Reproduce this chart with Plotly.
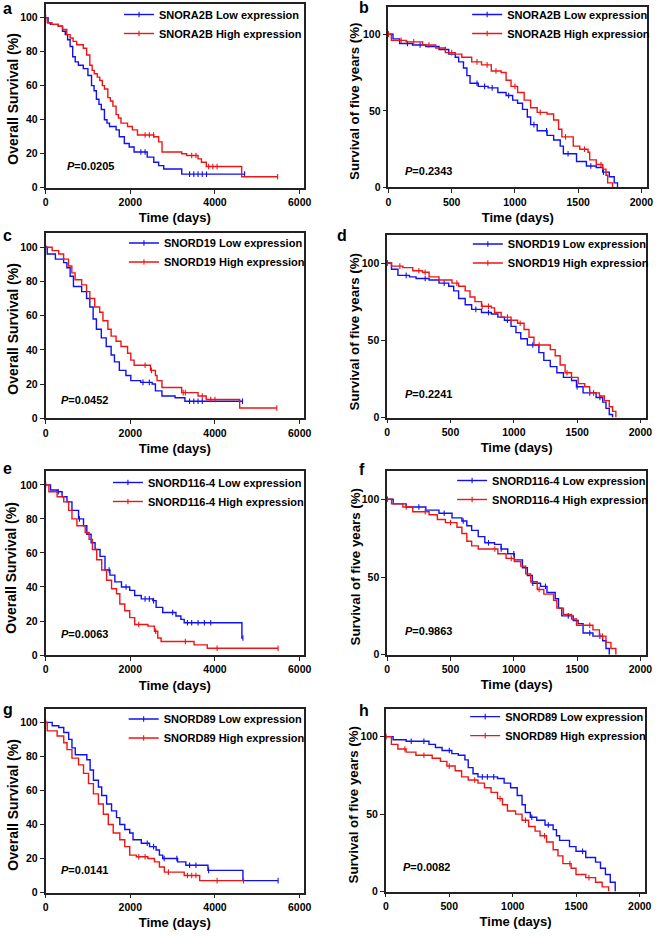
import plotly.graph_objects as go

W, H = 661, 936
FONT = "Liberation Sans, Arial, sans-serif"
BLUE = "#1010f0"
RED = "#f01414"

GENES = ["SNORA2B", "SNORA2B", "SNORD19", "SNORD19",
         "SNORD116-4", "SNORD116-4", "SNORD89", "SNORD89"]
P_VALUES = ["0.0205", "0.2343", "0.0452", "0.2241",
            "0.0063", "0.9863", "0.0141", "0.0082"]
LETTERS = ["a", "b", "c", "d", "e", "f", "g", "h"]
Y_TITLES = ["Overall Survival (%)", "Survival of five years (%)"]
X_TITLE = "Time (days)"
LEFT_XTICKS = [0, 2000, 4000, 6000]
LEFT_YTICKS = [0, 20, 40, 60, 80, 100]
RIGHT_XTICKS = [0, 500, 1000, 1500, 2000]
RIGHT_YTICKS = [0, 50, 100]

# ---------------- panel a ----------------
A_LOW_T = [0, 60, 115, 300, 400, 465, 520, 580, 640, 700, 775, 890, 1000, 1085, 1145, 1200,
           1260, 1316, 1390, 1450, 1510, 1665, 1740, 1860, 1975, 2090, 2400, 2555, 2670, 2790, 3215]
A_LOW_S = [100, 97, 96, 95, 92, 90, 87, 83, 77, 74, 72, 70, 66, 60, 57, 52,
           49, 46, 40, 38, 36, 34, 30, 26, 24, 21, 18, 15, 13, 11, 8]
A_LOW_C = [2250, 2350, 3400, 3500, 3600, 3700, 3800, 4700]
A_HIGH_T = [0, 40, 150, 300, 400, 500, 580, 650, 735, 890, 970, 1045, 1100, 1150, 1220, 1280,
            1340, 1390, 1470, 1530, 1590, 1665, 1720, 1780, 1935, 2050, 2170, 2555, 2670, 2750,
            3215, 3330, 3600, 3680, 3795, 4630]
A_HIGH_S = [100, 97, 96, 95, 93, 90, 88, 86, 84, 82, 78, 72, 69, 67, 65, 63,
            60, 58, 53, 51, 48, 43, 41, 38, 36, 34, 31, 30, 27, 21,
            20, 19, 17, 15, 12.5, 6.5]
A_HIGH_C = [2350, 2450, 2550, 3450, 3550, 3850, 3950, 4050, 5480]

# ---------------- panel b ----------------
B_LOW_T = [0, 36, 88, 190, 295, 400, 477, 528, 555, 593, 620, 645, 710, 788, 865, 930, 982,
           1021, 1060, 1098, 1124, 1176, 1254, 1306, 1358, 1383, 1487, 1565, 1643, 1694, 1746, 1785, 1811]
B_LOW_S = [100, 97, 94, 93, 92, 90, 87, 85, 82, 78, 73, 68, 66, 65, 62, 60, 57,
           55, 51, 46, 41, 37, 34, 31, 27, 22, 17, 14, 13, 10, 7, 3, 0]
B_LOW_C = [150, 250, 450, 700, 760, 820, 950, 1150, 1250, 1420, 1600, 1700]
B_HIGH_T = [0, 23, 140, 270, 373, 450, 528, 580, 658, 736, 813, 891, 930, 969, 1021, 1073,
            1124, 1176, 1254, 1306, 1345, 1371, 1461, 1513, 1578, 1591, 1643, 1694, 1720, 1733, 1772]
B_HIGH_S = [100, 96, 95, 93, 91, 88, 87, 85, 82, 80, 76, 75, 70, 66, 62, 57,
            52, 49, 48, 44, 38, 33, 27, 25, 23, 18, 15, 12, 8, 3, 0]
B_HIGH_C = [100, 200, 320, 500, 700, 780, 850, 1000, 1200, 1400, 1550, 1680]

# ---------------- panel c ----------------
C_LOW_T = [0, 39, 232, 426, 503, 580, 658, 852, 968, 1045, 1123, 1200, 1316, 1432, 1548, 1626,
           1742, 1897, 2013, 2245, 2516, 2594, 2748, 3058, 3290]
C_LOW_S = [100, 96, 93, 91, 88, 83, 77, 74, 70, 65, 58, 52, 47, 42, 37, 33,
           28, 25, 22, 21, 20, 16, 13, 12, 10]
C_LOW_C = [2300, 2450, 3400, 3500, 3600, 3700, 4650]
C_HIGH_T = [0, 155, 310, 426, 542, 620, 697, 852, 968, 1045, 1161, 1277, 1355, 1471, 1548, 1665,
            1781, 1936, 2013, 2090, 2477, 2594, 2632, 2748, 3213, 3600, 3794, 4583]
C_HIGH_S = [100, 98, 96, 93, 89, 85, 81, 78, 74, 70, 65, 62, 57, 52, 48, 45,
            42, 38, 34, 31, 28, 25, 22, 18, 15, 13, 11, 6]
C_HIGH_C = [2350, 2500, 3250, 3300, 3700, 3900, 4000, 5460]

# ---------------- panel d ----------------
D_LOW_T = [0, 34, 85, 176, 228, 331, 409, 486, 525, 564, 616, 667, 745, 823, 874, 926, 978,
           1017, 1055, 1107, 1198, 1237, 1288, 1340, 1392, 1456, 1495, 1547, 1650, 1702, 1728, 1754, 1780]
D_LOW_S = [100, 96, 92, 91, 90, 89, 87, 85, 82, 77, 73, 70, 68, 67, 65, 63, 59,
           55, 51, 47, 42, 37, 33, 29, 26, 24, 20, 16, 13, 10, 6, 2, 0]
D_LOW_C = [150, 300, 450, 700, 800, 950, 1150, 1500, 1600, 1680]
D_HIGH_T = [0, 34, 124, 202, 279, 331, 409, 512, 564, 616, 654, 693, 745, 823, 848, 900, 978,
            1030, 1081, 1120, 1159, 1288, 1327, 1366, 1405, 1456, 1508, 1560, 1599, 1676, 1715,
            1754, 1780, 1806]
D_HIGH_S = [100, 98, 97, 95, 94, 91, 89, 87, 85, 82, 78, 75, 72, 71, 68, 65, 63,
            61, 57, 52, 47, 44, 40, 34, 29, 26, 22, 20, 16, 14, 11,
            7, 4, 0]
D_HIGH_C = [100, 250, 300, 550, 750, 800, 950, 1050, 1200, 1420, 1630]

# ---------------- panel e ----------------
E_LOW_T = [0, 117, 273, 390, 506, 623, 779, 896, 974, 1075, 1169, 1286, 1403, 1519, 1636, 1792,
           1987, 2104, 2260, 2532, 2610, 2766, 3078, 3195, 3273, 4636]
E_LOW_S = [100, 97, 96, 93, 90, 85, 80, 76, 71, 66, 62, 58, 50, 47, 43, 40,
           38, 35, 33, 32, 28, 25, 23, 21, 19, 10]
E_LOW_C = [300, 800, 1500, 1900, 2350, 2450, 2550, 3000, 3350, 3450, 3600, 3750, 3900, 4660]
E_HIGH_T = [0, 78, 273, 429, 545, 623, 740, 935, 1028, 1106, 1208, 1325, 1441, 1558, 1675, 1753,
            1870, 1987, 2104, 2416, 2571, 2649, 2727, 3506, 3818]
E_HIGH_S = [100, 96, 93, 90, 85, 80, 76, 72, 68, 62, 56, 50, 44, 39, 36, 30,
            26, 22, 18, 17, 14, 10, 8, 6, 4]
E_HIGH_C = [2200, 2600, 3300, 4050, 5490]

# ---------------- panel f ----------------
F_LOW_T = [0, 47, 150, 305, 409, 512, 590, 629, 667, 719, 771, 848, 900, 952, 1004, 1068, 1107,
           1146, 1211, 1262, 1327, 1353, 1379, 1469, 1508, 1547, 1625, 1702, 1728, 1754]
F_LOW_S = [100, 97, 95, 93, 91, 88, 86, 83, 80, 76, 72, 71, 68, 65, 61, 56, 51,
           46, 44, 40, 36, 30, 25, 22, 20, 14, 12, 9, 4, 0]
F_LOW_C = [250, 450, 600, 800, 900, 1000, 1150, 1250, 1430, 1600, 1680]
F_HIGH_T = [0, 34, 124, 202, 331, 396, 460, 551, 590, 629, 667, 719, 874, 939, 1004, 1055, 1094,
            1133, 1185, 1237, 1314, 1340, 1392, 1456, 1495, 1625, 1676, 1728, 1767, 1806]
F_HIGH_S = [100, 97, 95, 92, 90, 87, 85, 82, 78, 73, 70, 68, 65, 62, 60, 57, 52,
            47, 42, 39, 35, 30, 26, 23, 19, 16, 12, 8, 4, 0]
F_HIGH_C = [150, 300, 500, 850, 980, 1200, 1600, 1700]

# ---------------- panel g ----------------
G_LOW_T = [0, 156, 312, 429, 545, 623, 701, 974, 1052, 1130, 1247, 1325, 1441, 1558, 1675, 1753,
           1870, 1987, 2065, 2260, 2455, 2610, 2688, 2766, 3117, 3312, 3834, 4660]
G_LOW_S = [100, 98, 97, 94, 90, 85, 81, 78, 72, 66, 62, 57, 52, 48, 44, 40,
           37, 35, 31, 29, 27, 25, 22, 20, 18, 16, 13, 7]
G_LOW_C = [2400, 2550, 2800, 3100, 3400, 3550, 3850, 5490]
G_HIGH_T = [0, 39, 273, 429, 506, 623, 779, 896, 1013, 1130, 1247, 1364, 1481, 1597, 1753, 1870,
            1987, 2143, 2416, 2571, 2688, 2805, 3273, 3639]
G_HIGH_S = [100, 95, 92, 88, 84, 79, 75, 70, 64, 58, 52, 46, 40, 35, 31, 27,
            22, 21, 20, 18, 15, 12, 10, 7]
G_HIGH_C = [2200, 2350, 2900, 3350, 3450, 3550, 4050, 4675]

# ---------------- panel h ----------------
H_LOW_T = [0, 57, 160, 340, 391, 443, 520, 571, 623, 649, 687, 726, 880, 932, 983, 1035, 1073,
           1099, 1138, 1189, 1254, 1318, 1344, 1369, 1447, 1498, 1575, 1652, 1691, 1730, 1768, 1807]
H_LOW_S = [100, 98, 97, 95, 93, 91, 89, 88, 85, 80, 76, 74, 73, 70, 67, 62, 56,
           51, 48, 46, 43, 40, 36, 33, 29, 26, 22, 19, 15, 11, 6, 0]
H_LOW_C = [200, 300, 500, 760, 800, 850, 1150, 1280, 1550]
H_HIGH_T = [0, 44, 95, 160, 237, 365, 430, 481, 546, 597, 649, 726, 777, 829, 880, 919, 958,
            1022, 1073, 1125, 1176, 1215, 1266, 1318, 1356, 1395, 1460, 1498, 1575, 1652, 1704, 1755]
H_HIGH_S = [100, 95, 92, 90, 88, 86, 84, 81, 78, 74, 72, 70, 67, 64, 60, 56, 52,
            50, 46, 42, 39, 36, 32, 27, 23, 18, 15, 11, 9, 6, 3, 0]
H_HIGH_C = [150, 300, 500, 700, 900, 1100, 1250, 1450, 1600]

SERIES = [
    ((A_LOW_T, A_LOW_S, A_LOW_C), (A_HIGH_T, A_HIGH_S, A_HIGH_C)),
    ((B_LOW_T, B_LOW_S, B_LOW_C), (B_HIGH_T, B_HIGH_S, B_HIGH_C)),
    ((C_LOW_T, C_LOW_S, C_LOW_C), (C_HIGH_T, C_HIGH_S, C_HIGH_C)),
    ((D_LOW_T, D_LOW_S, D_LOW_C), (D_HIGH_T, D_HIGH_S, D_HIGH_C)),
    ((E_LOW_T, E_LOW_S, E_LOW_C), (E_HIGH_T, E_HIGH_S, E_HIGH_C)),
    ((F_LOW_T, F_LOW_S, F_LOW_C), (F_HIGH_T, F_HIGH_S, F_HIGH_C)),
    ((G_LOW_T, G_LOW_S, G_LOW_C), (G_HIGH_T, G_HIGH_S, G_HIGH_C)),
    ((H_LOW_T, H_LOW_S, H_LOW_C), (H_HIGH_T, H_HIGH_S, H_HIGH_C)),
]

# ---------------- layout geometry (pixels) ----------------
BOXES = [
    (43.3, 306.0, 4.0, 189.0), (392.0, 655.0, 6.7, 188.7),
    (43.3, 306.0, 235.0, 421.0), (390.7, 654.0, 236.7, 420.3),
    (43.3, 306.0, 474.3, 659.3), (390.7, 654.0, 474.3, 659.0),
    (43.3, 306.0, 713.3, 898.3), (389.3, 653.3, 713.3, 897.3),
]
LEFT_XMAX, RIGHT_XMAX = 6100, 2045
LEFT_YMAX, RIGHT_YMAX = 108, 118
LEGEND_POS = [(118, 0), (472, 0), (123, 230), (472.7, 231), (106.7, 471), (456.7, 469),
              (122.7, 709), (470, 706.7)]
LETTER_POS = [(5, 8.5), (367, 8), (5, 237), (345, 237), (5, 472), (365, 473), (5, 714), (367, 715)]
YTITLE_POS = [(10.5, 99), (357.5, 102), (10, 331), (357.5, 334), (8.5, 571), (358, 571),
              (10, 810), (356.5, 810)]
YTITLE_SIZE = [14, 13.3]
P_POS = [(0.075, 0.119), (0.057, 0.093), (0.052, 0.098), (0.062, 0.129),
         (0.052, 0.114), (0.062, 0.130), (0.052, 0.12), (0.059, 0.134)]


def build(t, s, cens):
    pts = [(ti, si, False) for ti, si in zip(t, s)]
    for c in cens:
        val = s[0]
        for ti, si in zip(t, s):
            if ti <= c:
                val = si
        pts.append((c, val, True))
    pts.sort(key=lambda p: (p[0], p[2]))
    return [p[0] for p in pts], [p[1] for p in pts], [p[2] for p in pts]


fig = go.Figure()
layout = dict(width=W, height=H, margin=dict(l=0, r=0, t=0, b=0),
              paper_bgcolor="white", plot_bgcolor="white",
              font=dict(family=FONT, color="black"), annotations=[])

for i in range(8):
    k = "" if i == 0 else str(i + 1)
    left = (i % 2 == 0)
    l, r, tp, bt = BOXES[i]
    axis_common = dict(showline=True, linecolor="#222222", linewidth=1.6, mirror=True,
                       ticks="outside", ticklen=4, tickwidth=1.3, tickcolor="#222222",
                       showgrid=False, zeroline=False,
                       tickfont=dict(family=FONT, size=10.5, color="black", weight="bold"))
    layout["xaxis" + k] = dict(
        axis_common, domain=[l / W, r / W], anchor="y" + k,
        range=[0, LEFT_XMAX if left else RIGHT_XMAX],
        tickvals=LEFT_XTICKS if left else RIGHT_XTICKS,
        title=dict(text=X_TITLE, standoff=6,
                   font=dict(family=FONT, size=13, color="black", weight="bold")))
    layout["yaxis" + k] = dict(
        axis_common, domain=[1 - bt / H, 1 - tp / H], anchor="x" + k,
        range=[0, LEFT_YMAX if left else RIGHT_YMAX],
        tickvals=LEFT_YTICKS if left else RIGHT_YTICKS)
    lg = "legend" + k
    lx, ly = LEGEND_POS[i]
    layout[lg] = dict(x=lx / W, y=1 - ly / H, xanchor="left", yanchor="top",
                      bgcolor="rgba(0,0,0,0)", borderwidth=0,
                      font=dict(family=FONT, size=11, color="black", weight="bold"))

    for (t, s, c), color, label in zip(SERIES[i], (BLUE, RED), ("Low", "High")):
        xs, ys, flags = build(t, s, c)
        mcol = [color if (f or j == 0) else "rgba(0,0,0,0)" for j, f in enumerate(flags)]
        fig.add_trace(go.Scatter(
            x=xs, y=ys, mode="lines+markers", line=dict(color=color, width=1.4, shape="hv"),
            marker=dict(symbol="line-ns-open", size=4, color=mcol, line=dict(width=1.1)),
            name=f"{GENES[i]} {label} expression", legend=lg,
            xaxis="x" + k, yaxis="y" + k, cliponaxis=False))

    tx, ty = YTITLE_POS[i]
    layout["annotations"].append(dict(
        text=Y_TITLES[0] if left else Y_TITLES[1], xref="paper", yref="paper",
        x=tx / W, y=1 - ty / H, xanchor="center", yanchor="middle", textangle=-90,
        showarrow=False,
        font=dict(family=FONT, size=YTITLE_SIZE[0] if left else YTITLE_SIZE[1],
                  color="black", weight="bold")))
    px_, py_ = P_POS[i]
    layout["annotations"].append(dict(
        text=f"<i>P</i>=<span>{P_VALUES[i]}</span>", xref="x" + k + " domain",
        yref="y" + k + " domain", x=px_, y=py_, xanchor="left", yanchor="middle",
        showarrow=False, font=dict(family=FONT, size=11, color="black", weight="bold")))
    lx2, ly2 = LETTER_POS[i]
    layout["annotations"].append(dict(
        text=LETTERS[i], xref="paper", yref="paper", x=lx2 / W, y=1 - ly2 / H,
        xanchor="center", yanchor="middle", showarrow=False,
        font=dict(family=FONT, size=16, color="black", weight="bold")))

fig.update_layout(**layout)
fig.write_html("out.html", config={"displayModeBar": False},
               post_script="document.body.style.margin='0';document.body.style.overflow='hidden';")
